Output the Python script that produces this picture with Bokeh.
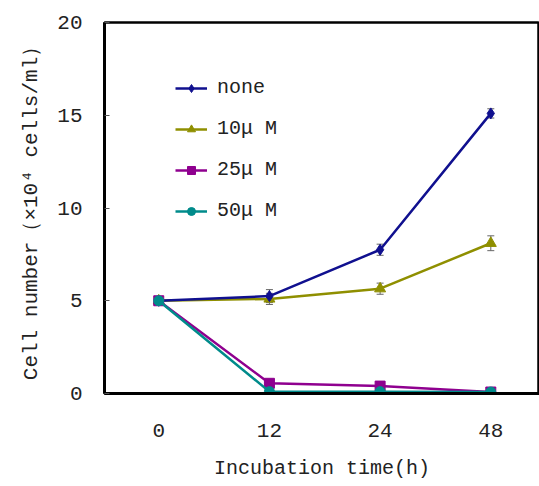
from bokeh.plotting import figure
from bokeh.models import FixedTicker, Legend, LegendItem, ColumnDataSource, Whisker
from bokeh.embed import file_html
from bokeh.resources import INLINE

times = ["0", "12", "24", "48"]
series_names = ["none", "10μ M", "25μ M", "50μ M"]
none_vals = [5.0, 5.25, 7.75, 15.1]
none_err = [0.0, 0.35, 0.3, 0.25]
m10_vals = [5.0, 5.1, 5.65, 8.1]
m10_err = [0.0, 0.3, 0.3, 0.4]
m25_vals = [5.0, 0.55, 0.4, 0.08]
m50_vals = [5.0, 0.1, 0.1, 0.08]
y_ticks = [0, 5, 10, 15, 20]

colors = ["#10108f", "#8f8f00", "#8f008f", "#008b8b"]
markers = ["diamond", "triangle", "square", "circle"]
msizes = [11, 11, 10, 10]

FONT = "Liberation Mono"

p = figure(width=539, height=486, output_backend="svg", toolbar_location=None,
           x_range=(-0.49, 3.44), y_range=(0, 20),
           min_border_left=104, min_border_right=0, min_border_top=22, min_border_bottom=93)
p.xgrid.visible = False
p.ygrid.visible = False
p.outline_line_color = "black"
p.outline_line_width = 2.5

xs = list(range(len(times)))

p.xaxis.ticker = FixedTicker(ticks=xs)
p.xaxis.major_label_overrides = {i: t for i, t in enumerate(times)}
p.yaxis.ticker = FixedTicker(ticks=y_ticks)

for ax in (p.xaxis[0], p.yaxis[0]):
    ax.axis_line_width = 3
    ax.axis_line_color = "black"
    ax.minor_tick_line_color = None
    ax.major_label_text_font = FONT
    ax.major_label_text_font_size = "21px"
    ax.major_label_text_color = "#222222"
    ax.axis_label_text_font = FONT
    ax.axis_label_text_font_size = "20px"
    ax.axis_label_text_font_style = "normal"
    ax.axis_label_text_color = "#222222"

p.yaxis.major_tick_in = 5
p.yaxis.major_tick_out = 0
p.yaxis.major_tick_line_color = "#555555"
p.yaxis.major_label_standoff = 22
p.yaxis.axis_label = "Cell number（×10⁴ cells/ml）"
p.yaxis.axis_label_text_font_size = "21px"
p.yaxis.axis_label_standoff = 11

p.xaxis.major_tick_in = 0
p.xaxis.major_tick_out = 0
p.xaxis.major_label_standoff = 30
p.xaxis.axis_label = "Incubation time(h)"
p.xaxis.axis_label_standoff = 17

all_vals = [none_vals, m10_vals, m25_vals, m50_vals]
errs = {0: none_err, 1: m10_err}

for i, e in errs.items():
    vals = all_vals[i]
    src = ColumnDataSource(dict(x=xs[1:], lo=[v - d for v, d in zip(vals[1:], e[1:])],
                                hi=[v + d for v, d in zip(vals[1:], e[1:])]))
    w = Whisker(source=src, base="x", lower="lo", upper="hi", line_color="#666666",
                line_width=1)
    w.upper_head.line_color = "#666666"
    w.lower_head.line_color = "#666666"
    w.upper_head.size = 7
    w.lower_head.size = 7
    p.add_layout(w)

items = []
for i in [1, 0, 2, 3]:
    vals = all_vals[i]
    l = p.line(xs, vals, line_color=colors[i], line_width=2.5)
    s = p.scatter(xs, vals, marker=markers[i], size=msizes[i], fill_color=colors[i],
                  line_color=colors[i])
    items.append((i, LegendItem(label=series_names[i], renderers=[l, s])))
items = [it for _, it in sorted(items, key=lambda t: t[0])]

legend = Legend(items=items, location=(71, 171), border_line_color=None,
                background_fill_alpha=0, label_text_font=FONT, label_text_font_size="20px",
                label_text_color="#222222", glyph_width=32, spacing=18, label_standoff=10,
                glyph_height=20, padding=10)
p.add_layout(legend, "center")

open("out.html", "w").write(file_html(p, INLINE))
